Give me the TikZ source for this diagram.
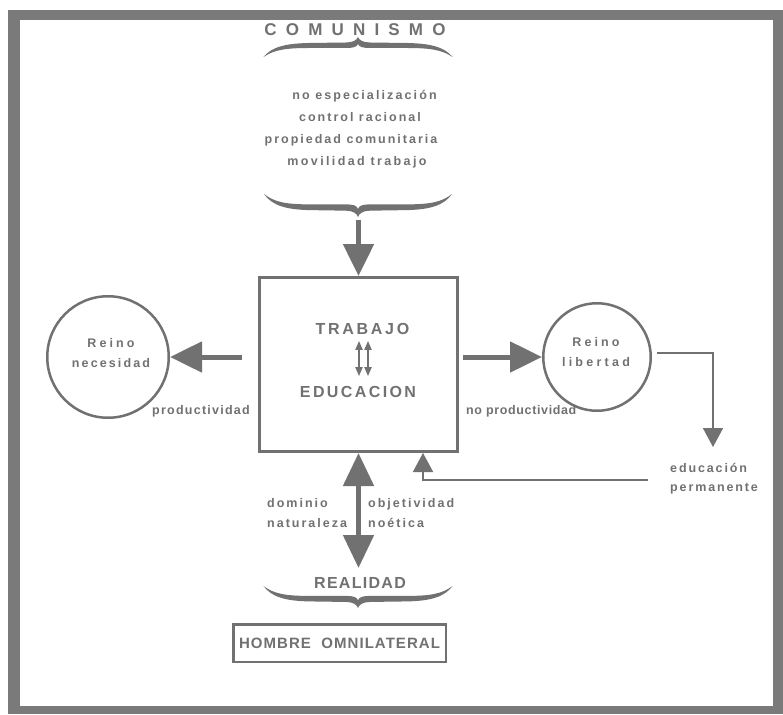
\documentclass[tikz,border=0pt]{standalone}
\usepackage{fontspec}
\setmainfont{Liberation Sans}
\usetikzlibrary{arrows.meta,calc}
\definecolor{ink}{HTML}{717171}
\definecolor{framec}{HTML}{7A7A7A}
\newcommand\mybrace[4]{%
 \begin{scope}[shift={(#1,#2)},yscale=#3]
  \fill[ink] (-#4,20) .. controls (-#4+8,10) and (-#4+22,6.5) .. (-#4+45,6) -- (-12,5.5)
   .. controls (-5,5.5) and (-1,3) .. (0,0) .. controls (1,3) and (5,5.5) .. (12,5.5)
   -- (#4-45,6) .. controls (#4-22,6.5) and (#4-8,10) .. (#4,20)
   .. controls (#4-10,13) and (#4-22,11) .. (#4-45,11) -- (12,11)
   .. controls (5,11) and (1,10) .. (0,7) .. controls (-1,10) and (-5,11) .. (-12,11)
   -- (-#4+45,11) .. controls (-#4+22,11) and (-#4+10,13) .. (-#4,20) -- cycle;
 \end{scope}}
\tikzset{
  smalltxt/.style={text=ink,inner sep=0pt,font=\bfseries\fontsize{12.5}{20}\selectfont\addfontfeature{LetterSpace=#1}},
  smalltxt/.default=16,
  captxt/.style={text=ink,inner sep=0pt,font=\bfseries\fontsize{16}{20}\selectfont\addfontfeature{LetterSpace=#1}},
  circtxt/.style={text=ink,font=\bfseries\fontsize{12.5}{20}\selectfont,inner sep=0pt,align=center},
  bigarrow/.style={draw=ink,line width=5pt,-{Triangle[width=30pt,length=32pt]}},
  bigdouble/.style={draw=ink,line width=5pt,{Triangle[width=30pt,length=33pt]}-{Triangle[width=30pt,length=33pt]}},
  thinarrow/.style={draw=ink,line width=1.6pt,-{Triangle[width=20pt,length=19pt]}},
  smallarrow/.style={draw=ink,line width=1.8pt,{Triangle[width=7pt,length=9pt]}-{Triangle[width=7pt,length=9pt]}},
  realm/.style={circle,draw=ink,line width=2.5pt,inner sep=0pt}
}
\begin{document}
\begin{tikzpicture}[x=1pt,y=-1pt]
\useasboundingbox (0,0) rectangle (783,714);
\fill[white] (0,0) rectangle (783,714);
\fill[framec] (8,10) rectangle (783,714);
\fill[white] (20,20) rectangle (773,706);

% top
\node[text=ink,inner sep=0pt,font=\bfseries\fontsize{17}{20}\selectfont\addfontfeature{LetterSpace=54}] (com) at (355,30) {COMUNISMO};
\mybrace{358}{37}{1}{94.5}
\node[smalltxt=17,anchor=base] (l1) at (364.5,99.5) {no especialización};
\node[smalltxt=16,anchor=base] (l2) at (360,121.5) {control racional};
\node[smalltxt=16,anchor=base] (l3) at (351,143.5) {propiedad comunitaria};
\node[smalltxt=19,anchor=base] (l4) at (357,165.5) {movilidad trabajo};
\mybrace{358}{217}{-1.15}{94}
\coordinate (b1) at (358.5,220);

% main box
\node[draw=ink,line width=3pt,minimum width=198pt,minimum height=174pt,inner sep=0pt] (box) at (358.5,364.5) {};
\draw[bigarrow] (b1) -- (box.north);
\node[captxt=17] (trab) at (362.5,329) {TRABAJO};
\node[captxt=15] (educ) at (358,392) {EDUCACION};
\draw[smallarrow] ([xshift=-3.5pt,yshift=-6pt]trab.south) -- ([xshift=1pt,yshift=10pt]educ.north);
\draw[smallarrow] ([xshift=5.5pt,yshift=-6pt]trab.south) -- ([xshift=10pt,yshift=10pt]educ.north);

% left realm
\node[realm,minimum size=121.5pt] (lc) at (108,357) {};
\node[circtxt] (lct) at (111,353) {{\addfontfeature{LetterSpace=25}Reino}\\{\addfontfeature{LetterSpace=17}necesidad}};
\coordinate (la) at (242,357);
\draw[bigarrow] (la) -- (lc);
\node[smalltxt=10,anchor=east] (prod) at (250,411) {productividad};

% right realm
\node[realm,minimum size=107.5pt] (rc) at (597,357) {};
\node[circtxt] (rct) at (596,352.5) {{\addfontfeature{LetterSpace=25}Reino}\\{\addfontfeature{LetterSpace=26}libertad}};
\coordinate (ra) at (463,357);
\draw[bigarrow] (ra) -- (rc);
\node[smalltxt=5,anchor=west] (noprod) at (466,411) {no productividad};

% educacion permanente
\coordinate (rs) at (657,353);
\coordinate (ea) at (713,447);
\draw[thinarrow] (rs) -| (ea);
\node[smalltxt=15,align=left,anchor=north west,font=\bfseries\fontsize{12.5}{19}\selectfont\addfontfeature{LetterSpace=15}] (ep) at (670,463) {educación\\permanente};
\coordinate (fs) at (648,480);
\draw[thinarrow] (fs) -| ([xshift=64.5pt]box.south);

% bottom
\coordinate (b3) at (358.5,568);
\draw[bigdouble] (box.south) -- (b3);
\node[smalltxt=16,align=left,anchor=west] (dom) at (267,513) {dominio\\naturaleza};
\node[smalltxt=16,align=left,anchor=west] (obj) at (368,513) {objetividad\\noética};
\node[captxt=8] (real) at (360,583) {REALIDAD};
\mybrace{358}{608}{-1.1}{94.5}
\node[draw=ink,line width=2.5pt,minimum width=212.5pt,minimum height=37.5pt,inner sep=0pt,
  text=ink,font=\bfseries\fontsize{15}{18}\selectfont\addfontfeature{LetterSpace=7}] (hom) at (339.5,643) {HOMBRE\ \ OMNILATERAL};
\end{tikzpicture}
\end{document}
